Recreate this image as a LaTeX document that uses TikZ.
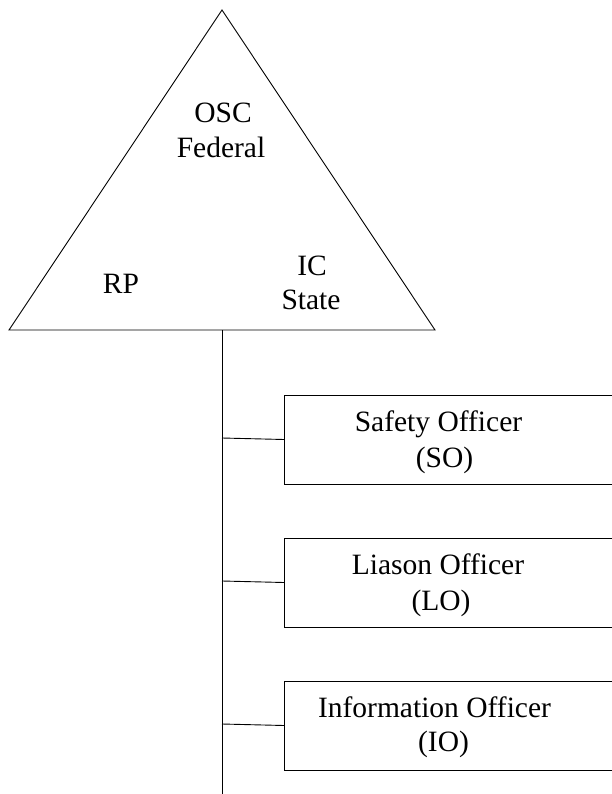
\documentclass[tikz,border=0pt]{standalone}
\usepackage{fontspec}
\setmainfont{Liberation Serif}
\begin{document}
\begin{tikzpicture}[x=1pt,y=-1pt,line width=0.9pt,
  lbl/.style={anchor=base,inner sep=0pt,font=\fontsize{29.5}{34.5}\selectfont},
  officer/.style={draw,rectangle,anchor=west,minimum width=360pt,minimum height=89pt,inner sep=0pt}]
\useasboundingbox (0,0) rectangle (612,794);
\clip (0,0) rectangle (612,794);
\fill[white] (0,0) rectangle (612,794);

% command triangle
\coordinate (apex) at (222,10);
\coordinate (bl) at (9,330);
\coordinate (br) at (435,330);
\draw (apex) -- (bl) -- (br) -- cycle;
\node[lbl] (osc) at (223,123) {OSC};
\node[lbl] (fed) at (221,158) {Federal};
\node[lbl] (rp) at (121,293) {RP};
\node[lbl] (ic) at (312,275) {IC};
\node[lbl] (state) at (311,309) {State};

% trunk line
\coordinate (trunktop) at (222,330);
\coordinate (trunkend) at (222,796);
\coordinate (t1) at (222,438);
\coordinate (t2) at (222,581);
\coordinate (t3) at (222,724);
\draw (trunktop) -- (trunkend);

% staff boxes
\node[officer] (so) at (284,439.5) {};
\node[officer] (lo) at (284,582.5) {};
\node[officer] (io) at (284,725.5) {};
\draw (t1) -- (so.west);
\draw (t2) -- (lo.west);
\draw (t3) -- (io.west);

\node[lbl] (sot) at (438.5,431) {Safety Officer};
\node[lbl] (soa) at (444.5,467) {(SO)};
\node[lbl] (lot) at (438,574) {Liason Officer};
\node[lbl] (loa) at (441,610) {(LO)};
\node[lbl] (iot) at (434.5,717) {Information Officer};
\node[lbl] (ioa) at (443.5,751) {(IO)};
\end{tikzpicture}
\end{document}
